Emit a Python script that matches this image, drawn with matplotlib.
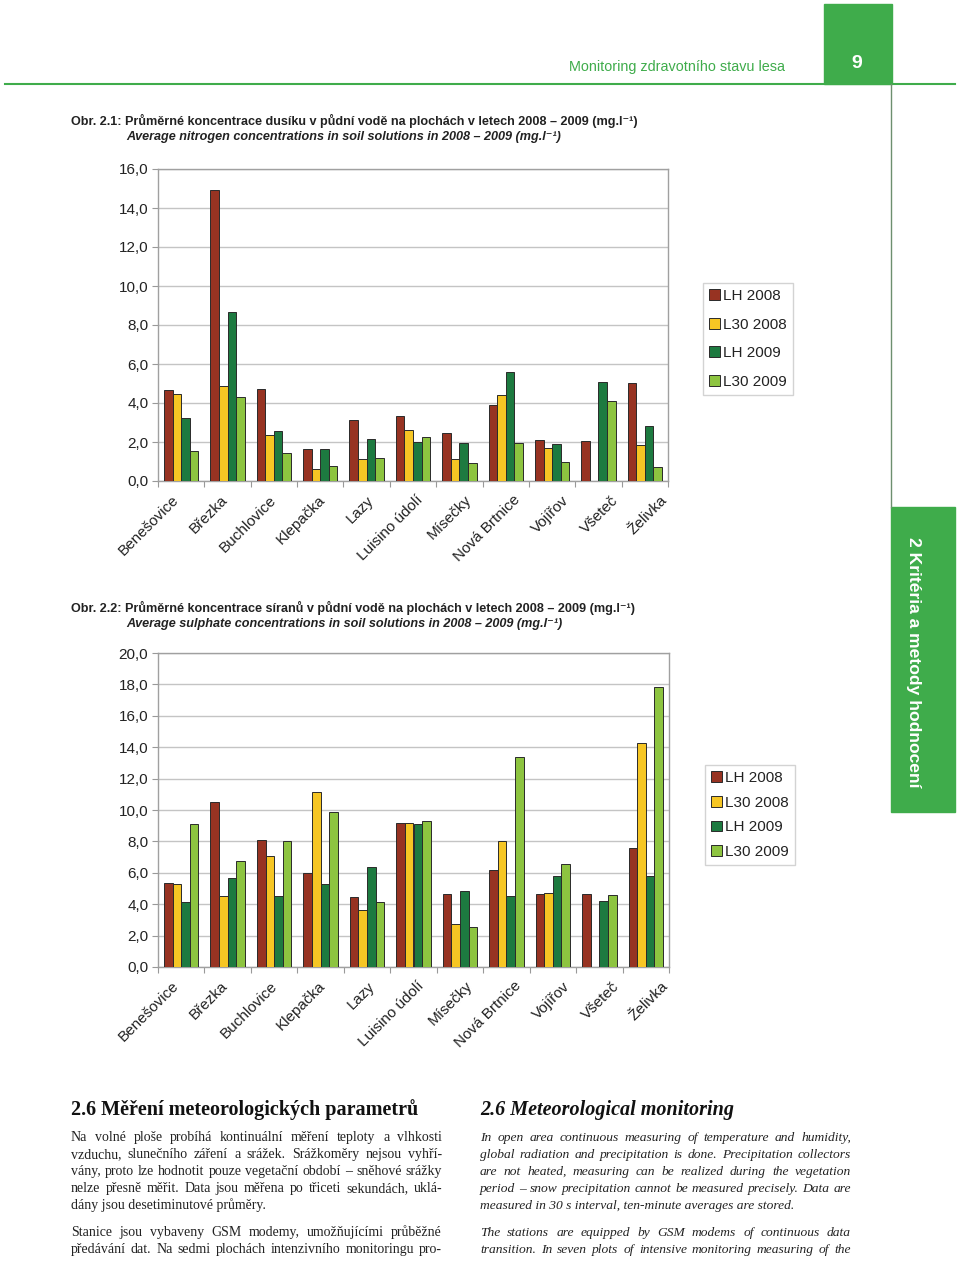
import matplotlib
matplotlib.use("Agg")
import matplotlib.pyplot as plt
from matplotlib.patches import Rectangle
from matplotlib.transforms import ScaledTranslation
import numpy as np

W, H = 960, 1261

categories = ["Benešovice", "Březka", "Buchlovice", "Klepačka", "Lazy", "Luisino údolí",
              "Mísečky", "Nová Brtnice", "Vojířov", "Všeteč", "Želivka"]
series_names = ["LH 2008", "L30 2008", "LH 2009", "L30 2009"]

# Fig 2.1 nitrogen (mg/l)
n_lh2008 = [4.69, 14.93, 4.71, 1.62, 3.11, 3.33, 2.44, 3.89, 2.10, 2.05, 5.03]
n_l302008 = [4.44, 4.85, 2.37, 0.63, 1.13, 2.63, 1.11, 4.42, 1.67, 0.0, 1.86]
n_lh2009 = [3.21, 8.67, 2.54, 1.62, 2.15, 2.00, 1.96, 5.58, 1.88, 5.09, 2.80]
n_l302009 = [1.52, 4.33, 1.45, 0.77, 1.19, 2.24, 0.94, 1.95, 0.99, 4.11, 0.72]

# Fig 2.2 sulphate (mg/l)
s_lh2008 = [5.37, 10.50, 8.06, 5.96, 4.48, 9.20, 4.62, 6.17, 4.67, 4.62, 7.55]
s_l302008 = [5.26, 4.50, 7.10, 11.16, 3.61, 9.20, 2.71, 8.04, 4.71, 0.0, 14.29]
s_lh2009 = [4.14, 5.66, 4.54, 5.30, 6.36, 9.14, 4.81, 4.54, 5.77, 4.22, 5.81]
s_l302009 = [9.08, 6.72, 8.02, 9.90, 4.11, 9.27, 2.55, 13.36, 6.57, 4.56, 17.86]

colors = ["#973322", "#F6C624", "#1D7A40", "#8DC440"]
GREEN = "#3FAC4B"
SANS = ["Liberation Sans", "DejaVu Sans"]
SERIF = ["Liberation Serif", "DejaVu Serif"]

plt.rcParams["font.family"] = SANS

fig = plt.figure(figsize=(W / 100, H / 100), dpi=100)


def rect(l, t, r, b):
    return [l / W, 1 - b / H, (r - l) / W, (b - t) / H]


def draw_chart(box, data, ymax, legend_box, lspacing):
    ax = fig.add_axes(rect(*box))
    n = len(categories)
    x = np.arange(n)
    bw = 0.185
    for i, (vals, c, name) in enumerate(zip(data, colors, series_names)):
        ax.bar(x + (i - 1.5) * bw, vals, width=bw, color=c, edgecolor="#2a2a2a",
               linewidth=0.7, label=name, zorder=3)
    ax.set_xlim(-0.5, n - 0.5)
    ax.set_ylim(0, ymax)
    yt = np.arange(0, ymax + 0.1, 2)
    ax.set_yticks(yt)
    ax.set_yticklabels([f"{v:.1f}".replace(".", ",") for v in yt], fontsize=11, color="#222222")
    ax.yaxis.grid(True, color="#C4C4C4", linewidth=1.0, zorder=0)
    ax.tick_params(axis="y", length=4, width=0.8, color="#999999", pad=3)
    ax.set_xticks([])
    ax.set_xticks(np.arange(-0.5, n, 1.0), minor=True)
    ax.tick_params(axis="x", which="minor", length=4, width=0.8, color="#999999")
    # category labels (spread slightly wider than the bar groups, as in the source)
    trans = ax.get_xaxis_transform() + ScaledTranslation(0, -12 / 100, fig.dpi_scale_trans)
    for i, cat in enumerate(categories):
        ax.text(i * 1.052 - 0.2, 0, cat, transform=trans, rotation=45, ha="right",
                va="top", rotation_mode="anchor", fontsize=11, color="#222222")
    for s in ax.spines.values():
        s.set_color("#A0A0A0")
        s.set_linewidth(1.0)
    leg = ax.legend(loc="upper left", bbox_to_anchor=(legend_box[0] / W, 1 - legend_box[1] / H),
                    bbox_transform=fig.transFigure, frameon=True, fancybox=False,
                    edgecolor="#C8C8C8", fontsize=11, handlelength=0.7, handleheight=0.7,
                    handletextpad=0.2, labelspacing=lspacing, borderpad=0.4,
                    borderaxespad=0)
    leg.get_frame().set_linewidth(1.0)
    for t in leg.get_texts():
        t.set_color("#222222")
    return ax


draw_chart((158, 169, 668, 481), [n_lh2008, n_l302008, n_lh2009, n_l302009], 16,
           (703, 283), 0.95)
draw_chart((158, 653, 669, 967), [s_lh2008, s_l302008, s_lh2009, s_l302009], 20,
           (705, 765), 0.70)

# Header decorations
fig.add_artist(plt.Line2D([5 / W, 955 / W], [1 - 84 / H, 1 - 84 / H], color=GREEN, lw=1.5))
fig.add_artist(Rectangle((824 / W, 1 - 84 / H), (892 - 824) / W, 80 / H, color=GREEN,
                         transform=fig.transFigure))
fig.add_artist(plt.Line2D([891 / W, 891 / W], [1 - 84 / H, 1 - 507 / H], color="#6d8f6f", lw=1.0))
fig.add_artist(Rectangle((891 / W, 1 - 812 / H), (955 - 891) / W, (812 - 507) / H, color=GREEN,
                         transform=fig.transFigure))
fig.text(569 / W, 1 - 67 / H, "Monitoring zdravotního stavu lesa", color=GREEN, fontsize=10.4,
         ha="left", va="center")
fig.text(857 / W, 1 - 63 / H, "9", color="white", fontsize=14, fontweight="bold",
         ha="center", va="center")
fig.text(914 / W, 1 - 662 / H, "2 Kritéria a metody hodnocení", color="white", fontsize=12.6,
         fontweight="bold", rotation=-90, ha="center", va="center")

# Figure titles
TS = 9.1
fig.text(71 / W, 1 - 121 / H,
         "Obr. 2.1: Průměrné koncentrace dusíku v půdní vodě na plochách v letech 2008 – 2009 (mg.l⁻¹)",
         fontsize=TS, fontweight="bold", color="#222222", ha="left", va="center")
fig.text(126 / W, 1 - 137 / H,
         "Average nitrogen concentrations in soil solutions in 2008 – 2009 (mg.l⁻¹)",
         fontsize=TS, fontweight="bold", style="italic", color="#222222", ha="left", va="center")
fig.text(71 / W, 1 - 608 / H,
         "Obr. 2.2: Průměrné koncentrace síranů v půdní vodě na plochách v letech 2008 – 2009 (mg.l⁻¹)",
         fontsize=TS, fontweight="bold", color="#222222", ha="left", va="center")
fig.text(126 / W, 1 - 624 / H,
         "Average sulphate concentrations in soil solutions in 2008 – 2009 (mg.l⁻¹)",
         fontsize=TS, fontweight="bold", style="italic", color="#222222", ha="left", va="center")

# Bottom text
fig.text(71 / W, 1 - 1115 / H, "2.6 Měření meteorologických parametrů", family=SERIF,
         fontsize=14.5, fontweight="bold", color="#111111", ha="left", va="baseline")
fig.text(480 / W, 1 - 1115 / H, "2.6 Meteorological monitoring", family=SERIF,
         fontsize=14.5, fontweight="bold", style="italic", color="#111111", ha="left",
         va="baseline")

left_lines = [
    ("Na volné ploše probíhá kontinuální měření teploty a vlhkosti", True),
    ("vzduchu, slunečního záření a srážek. Srážkoměry nejsou vyhří-", True),
    ("vány, proto lze hodnotit pouze vegetační období – sněhové srážky", True),
    ("nelze přesně měřit. Data jsou měřena po třiceti sekundách, uklá-", True),
    ("dány jsou desetiminutové průměry.", False),
    ("Stanice jsou vybaveny GSM modemy, umožňujícími průběžné", True),
    ("předávání dat. Na sedmi plochách intenzivního monitoringu pro-", True),
]
right_lines = [
    ("In open area continuous measuring of temperature and humidity,", True),
    ("global radiation and precipitation is done. Precipitation collectors", True),
    ("are not heated, measuring can be realized during the vegetation", True),
    ("period – snow precipitation cannot be measured precisely. Data are", True),
    ("measured in 30 s interval, ten-minute averages are stored.", False),
    ("The stations are equipped by GSM modems of continuous data", True),
    ("transition. In seven plots of intensive monitoring measuring of the", True),
]
baselines = [1141, 1158, 1175, 1192, 1209, 1236, 1253]

renderer = fig.canvas.get_renderer()


def text_width(s, **kw):
    t = fig.text(0, 0, s, **kw)
    w = t.get_window_extent(renderer).width
    t.remove()
    return w


def fit_size(lines, width, **kw):
    mx = max(text_width(l, fontsize=10, **kw) for l, _ in lines)
    return min(10.6, 10 * (width - 4) / mx)


def draw_justified(x0, x1, y, line, justify, **kw):
    if not justify:
        fig.text(x0 / W, 1 - y / H, line, ha="left", va="baseline", **kw)
        return
    words = line.split(" ")
    widths = [text_width(w, **kw) for w in words]
    gap = (x1 - x0 - sum(widths)) / (len(words) - 1)
    xx = x0
    for w, wd in zip(words, widths):
        fig.text(xx / W, 1 - y / H, w, ha="left", va="baseline", **kw)
        xx += wd + gap


ls = fit_size(left_lines, 371, family=SERIF)
rs = fit_size(right_lines, 371, family=SERIF, style="italic")
for (line, j), y in zip(left_lines, baselines):
    draw_justified(71, 442, y, line, j, family=SERIF, fontsize=ls, color="#222222")
for (line, j), y in zip(right_lines, baselines):
    draw_justified(480, 851, y, line, j, family=SERIF, fontsize=rs, style="italic",
                   color="#222222")

fig.savefig("out.png", dpi=100)
